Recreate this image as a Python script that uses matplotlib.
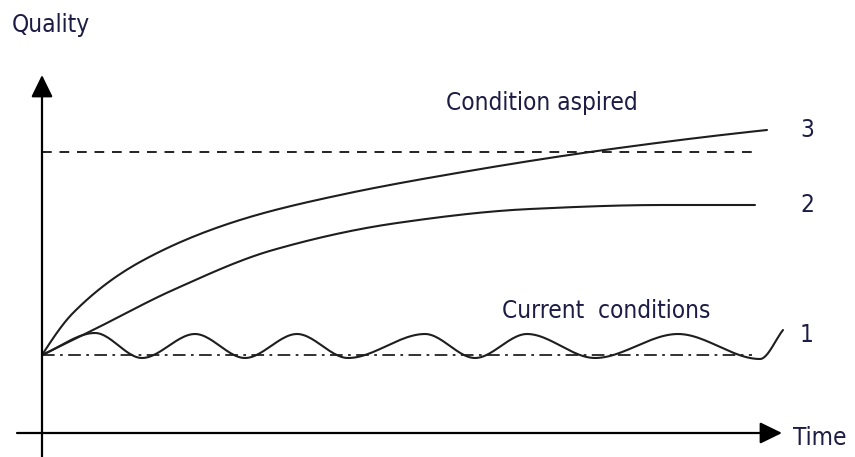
import numpy as np
import matplotlib
matplotlib.use("Agg")
import matplotlib.pyplot as plt

# values, in arbitrary units
# (time = 0 at the vertical axis, quality = 0 at the horizontal axis)
t_aspired = [0, 3.1, 9.8, 19.8, 29.8, 42.1, 55.5, 72.5]
q_aspired = [8.0, 12.2, 17.3, 21.5, 24.0, 26.3, 28.4, 30.5]

t_improved = [0, 5.3, 13.1, 23.1, 35.5, 48.8, 62.1, 71.3]
q_improved = [8.0, 10.6, 14.5, 18.5, 21.2, 22.6, 23.0, 23.0]

t_current = [0, 5.3, 10.0, 15.3, 20.3, 25.5, 30.6, 38.3, 43.3, 48.5, 55.3, 63.6, 71.8, 74.1]
q_current = [8.0, 10.2, 7.7, 10.1, 7.7, 10.1, 7.7, 10.1, 7.7, 10.1, 7.7, 10.1, 7.6, 10.5]

q_target = 28.3      # dashed level "Condition aspired"
q_start = 8.0        # dash-dot level, starting condition
t_end_levels = 71.0

curve_labels = ["3", "2", "1"]
ink = "#1c1c44"


def end_slope(h0, h1, d0, d1):
    if d0 * d1 <= 0:
        return d0
    m = ((2 * h0 + h1) * d0 - h0 * d1) / (h0 + h1)
    if m * d0 <= 0:
        return 0.0
    return m


def smooth(x, y, n=25):
    # monotone cubic (pchip) through the read points, only to draw a smooth line
    x = np.asarray(x, float)
    y = np.asarray(y, float)
    h = np.diff(x)
    d = np.diff(y) / h
    m = np.zeros_like(y)
    m[0] = end_slope(h[0], h[1], d[0], d[1])
    m[-1] = end_slope(h[-1], h[-2], d[-1], d[-2])
    for k in range(1, len(x) - 1):
        if d[k - 1] * d[k] > 0:
            w1 = 2 * h[k] + h[k - 1]
            w2 = h[k] + 2 * h[k - 1]
            m[k] = (w1 + w2) / (w1 / d[k - 1] + w2 / d[k])
    xs, ys = [], []
    s = np.linspace(0, 1, n, endpoint=False)
    for k in range(len(x) - 1):
        h00 = 2 * s ** 3 - 3 * s ** 2 + 1
        h10 = s ** 3 - 2 * s ** 2 + s
        h01 = -2 * s ** 3 + 3 * s ** 2
        h11 = s ** 3 - s ** 2
        xs.extend(x[k] + s * h[k])
        ys.extend(h00 * y[k] + h10 * h[k] * m[k] + h01 * y[k + 1] + h11 * h[k] * m[k + 1])
    xs.append(x[-1])
    ys.append(y[-1])
    return xs, ys


def main():
    fig = plt.figure(figsize=(8.55, 4.57), dpi=100)
    ax = fig.add_axes([0, 0, 1, 1])
    ax.set_xlim(-4.2, 81.3)
    ax.set_ylim(-2.2, 43.5)
    ax.axis("off")

    font = dict(family="DejaVu Sans", fontstretch="condensed", fontsize=17.5, color=ink)

    # axes with arrows
    arrow = dict(arrowstyle="-|>,head_length=0.45,head_width=0.22", color="black",
                 lw=1.6, mutation_scale=30, shrinkA=0, shrinkB=0)
    ax.annotate("", xy=(0, 36.0), xytext=(0, -2.2), arrowprops=arrow)
    ax.annotate("", xy=(74.0, 0.2), xytext=(-2.5, 0.2), arrowprops=arrow)

    # reference levels
    ax.plot([0, t_end_levels], [q_target, q_target], color="#222222", lw=1.4,
            dashes=(5, 4))
    ax.plot([0, t_end_levels], [q_start, q_start], color="#222222", lw=1.3,
            dashes=(7, 3, 1.5, 3))

    for t, q in ((t_aspired, q_aspired), (t_improved, q_improved), (t_current, q_current)):
        xs, ys = smooth(t, q)
        ax.plot(xs, ys, color="#1e1e1e", lw=1.5, solid_capstyle="round")

    ax.text(-3.0, 41.0, "Quality", ha="left", va="center", **font)
    ax.text(75.1, -0.3, "Time", ha="left", va="center", **font)
    for lab, q in zip(curve_labels, [q_aspired[-1], q_improved[-1], q_current[-1] - 0.5]):
        ax.text(76.5, q, lab, ha="center", va="center", **font)
    ax.text(50.0, 33.2, "Condition aspired", ha="center", va="center", **font)
    ax.text(56.4, 12.4, "Current  conditions", ha="center", va="center", **font)

    fig.savefig("out.png", dpi=100, facecolor="white")


if __name__ == "__main__":
    main()
